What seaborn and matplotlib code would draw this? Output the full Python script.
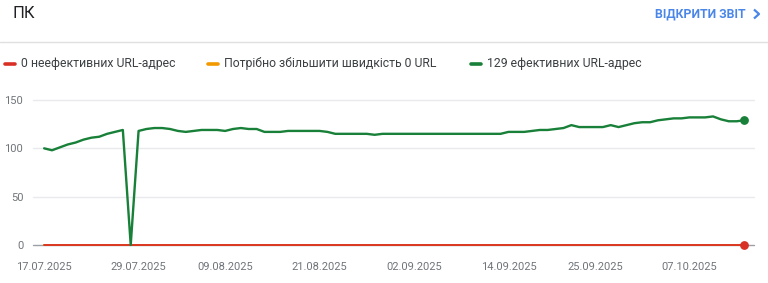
import numpy as np
import pandas as pd
import matplotlib
matplotlib.use("Agg")
import matplotlib.pyplot as plt
import matplotlib.dates as mdates
from matplotlib.lines import Line2D
import seaborn as sns

# ---- data ----
start_date = "2025-07-17"
good_urls = [100, 98, 101, 104, 106, 109, 111, 112, 115, 117,
             119, 0, 118, 120, 121, 121, 120, 118, 117, 118,
             119, 119, 119, 118, 120, 121, 120, 120, 117, 117,
             117, 118, 118, 118, 118, 118, 117, 115, 115, 115,
             115, 115, 114, 115, 115, 115, 115, 115, 115, 115,
             115, 115, 115, 115, 115, 115, 115, 115, 115, 117,
             117, 117, 118, 119, 119, 120, 121, 124, 122, 122,
             122, 122, 124, 122, 124, 126, 127, 127, 129, 130,
             131, 131, 132, 132, 132, 133, 130, 128, 128, 129]
poor_urls = [0] * len(good_urls)
needs_improvement_urls = [0] * len(good_urls)
series_names = ["0 неефективних URL-адрес",
                "Потрібно збільшити швидкість 0 URL",
                "129 ефективних URL-адрес"]
series_colors = ["#d93025", "#f29900", "#188038"]
tick_dates = ["2025-07-17", "2025-07-29", "2025-08-09", "2025-08-21",
              "2025-09-02", "2025-09-14", "2025-09-25", "2025-10-07"]
y_ticks = [0, 50, 100, 150]
title = "ПК"
button_text = "ВІДКРИТИ ЗВІТ"

dates = pd.date_range(start_date, periods=len(good_urls), freq="D")
df = pd.concat([
    pd.DataFrame({"date": dates, "value": needs_improvement_urls, "series": series_names[1]}),
    pd.DataFrame({"date": dates, "value": poor_urls, "series": series_names[0]}),
    pd.DataFrame({"date": dates, "value": good_urls, "series": series_names[2]}),
], ignore_index=True)

sns.set_theme(style="white")
plt.rcParams["font.family"] = ["Roboto", "DejaVu Sans"]

W, H = 768, 283
fig = plt.figure(figsize=(W / 100, H / 100), dpi=100)
fig.patch.set_facecolor("white")

def fx(px):
    return px / W

def fy(py):
    return 1 - py / H

ax = fig.add_axes([fx(33), fy(245), fx(754) - fx(33), fy(100) - fy(245)])
ax.set_facecolor("white")

# grid lines
for v in y_ticks[1:]:
    ax.axhline(v, color="#e8eaed", lw=1.0, zorder=0)
ax.axhline(0, color="#9aa0a6", lw=1.0, zorder=0)

order = [series_names[1], series_names[0], series_names[2]]
pal = {series_names[0]: series_colors[0], series_names[1]: series_colors[1],
       series_names[2]: series_colors[2]}
sns.lineplot(data=df, x="date", y="value", hue="series", hue_order=order,
             palette=pal, ax=ax, legend=False, linewidth=1.7, zorder=3)
lines = ax.get_lines()
for line in lines:
    line.set_clip_on(False)
    line.set_solid_joinstyle("round")
for line in lines:
    if line.get_color() in (series_colors[0], series_colors[1]):
        line.set_linewidth(1.3)

# end markers
last = df[df["date"] == dates[-1]]
for name in [series_names[0], series_names[2]]:
    row = last[last["series"] == name]
    ax.scatter(row["date"], row["value"], s=28, color=pal[name], zorder=5, clip_on=False)

ax.set_ylim(0, 150)
ax.set_xlim(dates[0] - pd.Timedelta(hours=34), dates[-1] + pd.Timedelta(hours=29))
ax.set_yticks(y_ticks)
ax.set_xticks(pd.to_datetime(tick_dates))
ax.xaxis.set_major_formatter(mdates.DateFormatter("%d.%m.%Y"))
ax.tick_params(axis="both", length=0, labelsize=8, labelcolor="#70757a")
ax.tick_params(axis="x", pad=12)
ax.tick_params(axis="y", pad=7)
ax.set_xlabel("")
ax.set_ylabel("")
for s in ax.spines.values():
    s.set_visible(False)

# header
fig.text(fx(12), fy(13), title, fontsize=12, color="#202124", va="center", ha="left")
fig.text(fx(746), fy(14), button_text, fontsize=8.8, fontweight="bold", color="#4a86e8",
         va="center", ha="right")
fig.add_artist(Line2D([fx(754), fx(759), fx(754)], [fy(9.5), fy(14), fy(18.5)],
                      color="#4a86e8", lw=1.6, solid_capstyle="butt"))
fig.add_artist(Line2D([0, 1], [fy(42), fy(42)], color="#e0e0e0", lw=1.0))

# legend
leg_items = [(5, series_names[0], series_colors[0]),
             (208, series_names[1], series_colors[1]),
             (471, series_names[2], series_colors[2])]
for x0, name, col in leg_items:
    fig.add_artist(Line2D([fx(x0), fx(x0 + 10)], [fy(63.5), fy(63.5)], color=col, lw=2.6,
                          solid_capstyle="round"))
    fig.text(fx(x0 + 16), fy(63.5), name, fontsize=8.8, color="#3c4043", va="center", ha="left")

fig.savefig("out.png", dpi=100, facecolor="white")
